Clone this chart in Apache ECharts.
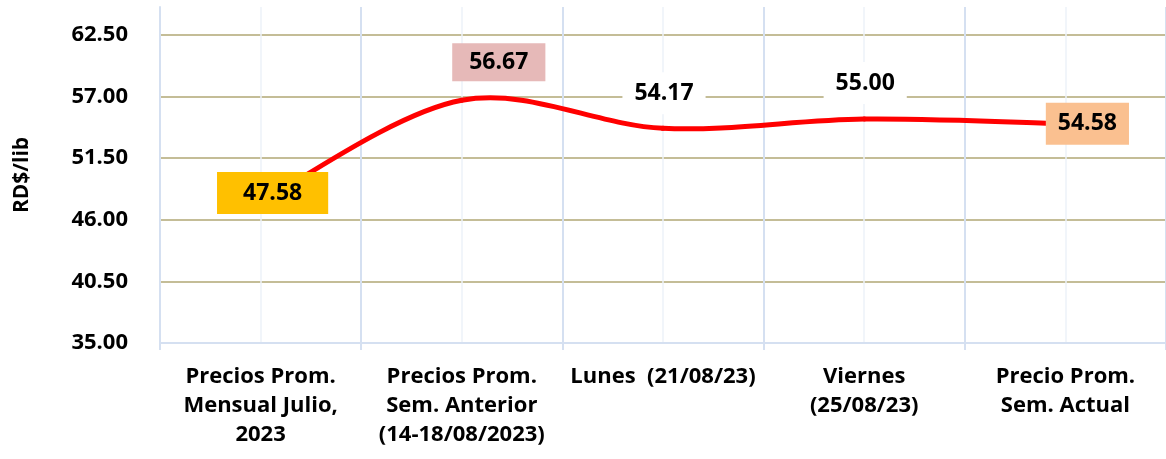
<!DOCTYPE html>
<html>
<head>
<meta charset="utf-8">
<script src="https://cdn.jsdelivr.net/npm/echarts@6/dist/echarts.min.js"></script>
<style>
html, body { margin: 0; padding: 0; background: #fff; }
#chart { width: 1166px; height: 459px; }
</style>
</head>
<body>
<div id="chart"></div>
<script>
// data
const categories = [
	'Precios Prom.\nMensual Julio,\n2023',
	'Precios Prom.\nSem. Anterior\n(14-18/08/2023)',
	'Lunes  (21/08/23)',
	'Viernes\n(25/08/23)',
	'Precio Prom.\nSem. Actual'
];
const prices = [47.58, 56.67, 54.17, 55.00, 54.58];
const yTicks = [35, 40.5, 46, 51.5, 57, 62.5];
const centerTicks = [1, 3, 5, 7, 9];

// label look for each point
const labelLooks = [
	{ bg: '#ffc000', offset: [12, -9], padding: [10, 26] },
	{ bg: '#e6b9b8', offset: [37, -38], padding: [8, 17] },
	{ bg: '#ffffff', offset: [1, -35], padding: [10, 12] },
	{ bg: '#ffffff', offset: [1, -36], padding: [10, 12] },
	{ bg: '#fac090', offset: [22, 0], padding: [10, 12] }
];

const font = '"Open Sans", Lato, sans-serif';
const chart = echarts.init(document.getElementById('chart'));

// smoothed line like the spreadsheet one (Catmull-Rom style, tension 1/6)
function renderCurve(params, api) {
	const i = params.dataIndex;
	if (i >= prices.length - 1) {
		return null;
	}
	const pt = j => {
		const k = Math.max(0, Math.min(prices.length - 1, j));
		return api.coord([k, prices[k]]);
	};
	const p0 = pt(i - 1);
	const p1 = pt(i);
	const p2 = pt(i + 1);
	const p3 = pt(i + 2);
	return {
		type: 'bezierCurve',
		shape: {
			x1: p1[0], y1: p1[1],
			x2: p2[0], y2: p2[1],
			cpx1: p1[0] + (p2[0] - p0[0]) / 6,
			cpy1: p1[1] + (p2[1] - p0[1]) / 6,
			cpx2: p2[0] - (p3[0] - p1[0]) / 6,
			cpy2: p2[1] - (p3[1] - p1[1]) / 6
		},
		style: { stroke: '#ff0000', lineWidth: 5, fill: null, lineCap: 'round' }
	};
}

const labelData = prices.map((v, i) => ({
	value: [i, v],
	label: {
		backgroundColor: labelLooks[i].bg,
		offset: labelLooks[i].offset,
		padding: labelLooks[i].padding
	}
}));

chart.setOption({
	animation: false,
	grid: { left: 160, top: 7, width: 1013, height: 336 },
	xAxis: [{
		type: 'category',
		data: categories,
		boundaryGap: true,
		axisLine: { lineStyle: { color: '#d5e0f1', width: 2 } },
		axisTick: { show: true, length: 7, lineStyle: { color: '#d5e0f1', width: 2 } },
		axisLabel: {
			color: '#000',
			fontFamily: font,
			fontWeight: 'bold',
			fontSize: 22,
			lineHeight: 29,
			margin: 19,
			interval: 0
		},
		splitLine: { show: true, lineStyle: { color: '#d5e0f1', width: 2 } },
		z: 3
	}, {
		type: 'value',
		min: 0,
		max: 10,
		position: 'bottom',
		axisLine: { show: false },
		axisTick: { show: false, customValues: centerTicks },
		axisLabel: { show: false },
		splitLine: { show: true, lineStyle: { color: '#edf2f9', width: 1.5 } }
	}],
	yAxis: {
		type: 'value',
		min: 35,
		max: 65,
		name: 'RD$/lib',
		nameLocation: 'middle',
		nameGap: 127,
		nameRotate: 90,
		nameTextStyle: { color: '#000', fontFamily: font, fontWeight: 'bold', fontSize: 21 },
		axisLine: { show: true, lineStyle: { color: '#d5e0f1', width: 2 } },
		axisTick: { show: false, customValues: yTicks },
		axisLabel: {
			customValues: yTicks,
			formatter: v => v.toFixed(2),
			color: '#000',
			fontFamily: font,
			fontWeight: 'bold',
			fontSize: 22,
			margin: 32
		},
		splitLine: {
			show: true,
			lineStyle: { color: ['transparent', '#c4bd97', '#c4bd97', '#c4bd97', '#c4bd97', '#c4bd97'], width: 2 }
		}
	},
	series: [{
		type: 'custom',
		data: prices.map((v, i) => [i, v]),
		encode: { x: 0, y: 1 },
		renderItem: renderCurve,
		z: 4
	}, {
		type: 'scatter',
		data: labelData,
		symbolSize: 1,
		itemStyle: { color: 'transparent', opacity: 1 },
		label: {
			show: true,
			position: 'inside',
			formatter: p => p.value[1].toFixed(2),
			color: '#000',
			fontFamily: font,
			fontWeight: 'bold',
			fontSize: 23,
			lineHeight: 22
		},
		emphasis: { disabled: true },
		z: 6
	}]
});
</script>
</body>
</html>
